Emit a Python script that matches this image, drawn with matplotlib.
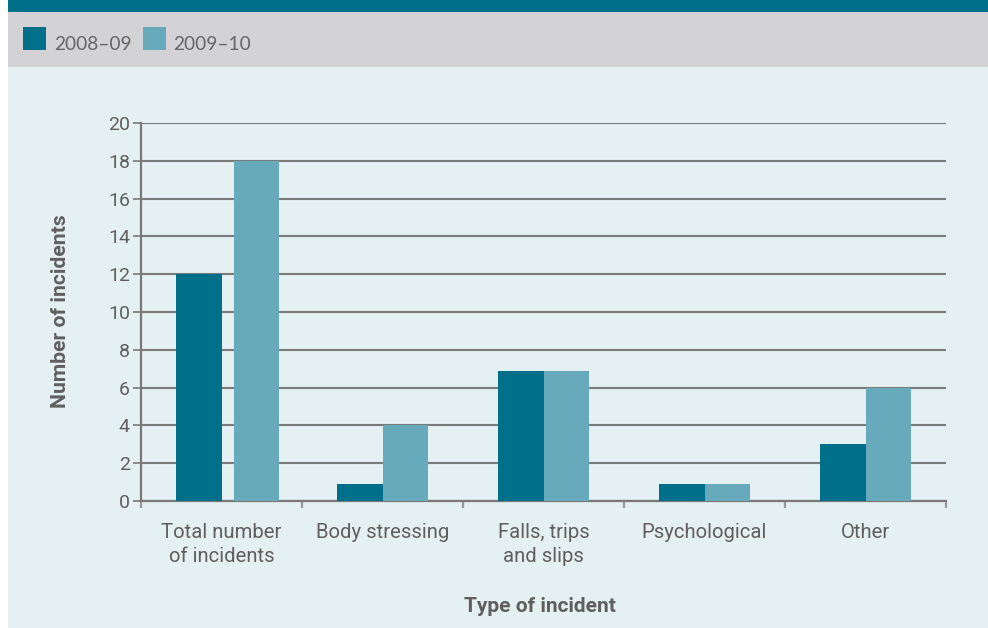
import matplotlib
matplotlib.use("Agg")
import matplotlib.pyplot as plt
from matplotlib.patches import Rectangle
import numpy as np

categories = ["Total number\nof incidents", "Body stressing", "Falls, trips\nand slips", "Psychological", "Other"]
series_names = ["2008–09", "2009–10"]
values_0809 = [12, 0.9, 6.9, 0.9, 3]
values_0910 = [18, 4, 6.9, 0.9, 6]
y_ticks = [0, 2, 4, 6, 8, 10, 12, 14, 16, 18, 20]

dark = "#00708A"
light = "#66AABB"
text_col = "#5f5f5f"
plt.rcParams['font.family'] = ['Roboto', 'DejaVu Sans']

W, H = 988, 628
fig = plt.figure(figsize=(W / 100, H / 100), dpi=100)
fig.patch.set_facecolor("white")

def px_rect(x0, y0, x1, y1, color):
    fig.patches.append(Rectangle((x0 / W, 1 - y1 / H), (x1 - x0) / W, (y1 - y0) / H,
                                 transform=fig.transFigure, facecolor=color, edgecolor="none", zorder=-5))

px_rect(8, 0, W, H, "#E4F0F2")
px_rect(8, 12, W, 67, "#D3D3D5")
px_rect(8, 0, W, 12, "#006F8A")

# legend
for (sx, tx, name, col) in [(23, 54, series_names[0], dark), (143, 173, series_names[1], light)]:
    px_rect(sx, 27, sx + 23, 50, col)
    fig.text(tx / W, 1 - 50 / H, name, fontsize=13.8, color="#666666", va="baseline", ha="left",
             family=["Lato", "DejaVu Sans"])

ax = fig.add_axes([141 / W, 127 / H, (946 - 141) / W, (501 - 123) / H])
ax.set_facecolor("none")
ax.set_zorder(5)

x = np.arange(len(categories))
w = 0.28
gap = np.array([0.08, 0, 0, 0, 0])
ax.bar(x, values_0809, width=-w, align="edge", color=dark, zorder=3)
ax.bar(x + gap, values_0910, width=w, align="edge", color=light, zorder=3)

ax.set_xlim(-0.5, len(categories) - 0.5)
ax.set_ylim(0, 20)
ax.set_yticks(y_ticks)
ax.yaxis.grid(True, color="#7a7a7a", linewidth=1.5, zorder=1)
ax.set_axisbelow(True)

for s in ["top", "right"]:
    ax.spines[s].set_visible(False)
for s in ["left", "bottom"]:
    ax.spines[s].set_color("#787878")
    ax.spines[s].set_linewidth(1.6)

ax.tick_params(axis="y", length=6, width=1.2, color="#787878", labelsize=14, labelcolor=text_col, pad=2)
ax.set_xticks(np.arange(-0.5, len(categories)), labels=[""] * (len(categories) + 1))
ax.tick_params(axis="x", which="major", length=5, width=1.6, color="#999999")
ax.set_xticks(x, labels=categories, minor=True)
ax.tick_params(axis="x", which="minor", length=0, labelsize=14.6, labelcolor=text_col, pad=16)
for lbl in ax.get_xticklabels(minor=True):
    lbl.set_linespacing(1.3)

fig.text(60 / W, 1 - 311 / H, "Number of incidents", rotation=90, fontsize=15.2, fontweight="bold",
         color=text_col, ha="center", va="center")
fig.text(540 / W, 1 - 606 / H, "Type of incident", fontsize=15, fontweight="bold",
         color=text_col, ha="center", va="center")

fig.savefig("out.png", dpi=100, facecolor=fig.get_facecolor())
